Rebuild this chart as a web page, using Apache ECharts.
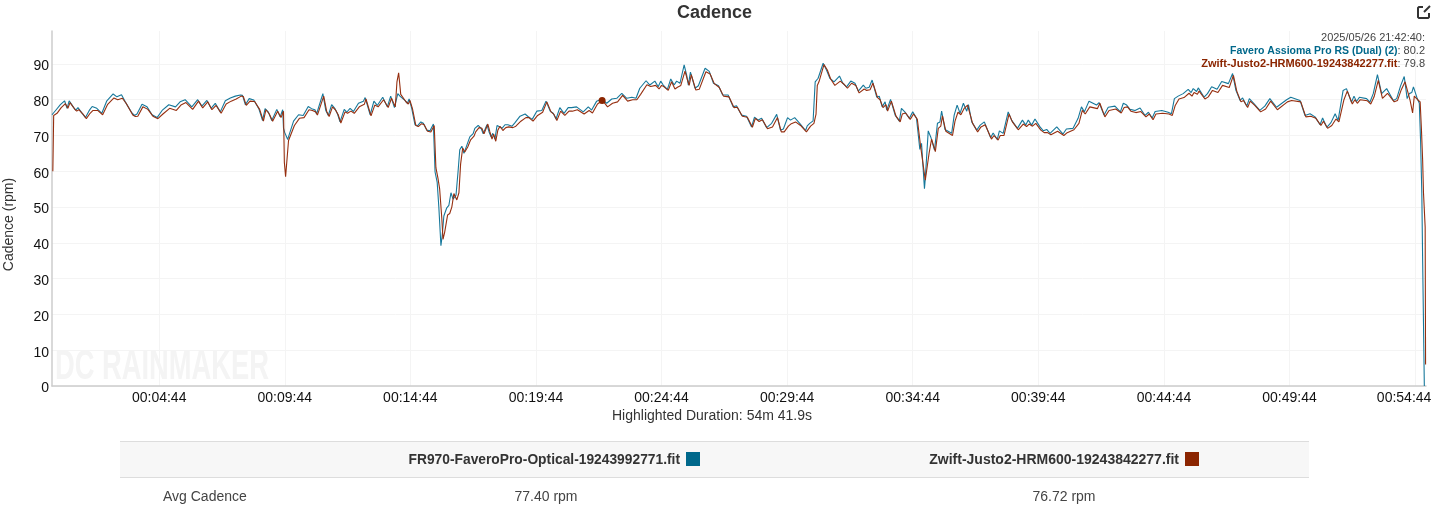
<!DOCTYPE html>
<html>
<head>
<meta charset="utf-8">
<title>Cadence</title>
<script src="https://cdn.jsdelivr.net/npm/echarts@6/dist/echarts.min.js"></script>
<style>
html, body { margin: 0; padding: 0; background: #fff; }
#chart { width: 1438px; height: 510px; }
</style>
</head>
<body>
<div id="chart"></div>
<script>
// seconds of elapsed time
var elapsed = [
  28, 30, 38, 48, 58, 64, 69, 80, 85, 90, 100, 108, 117, 124, 135, 147, 159, 174, 183, 194,
  203, 219, 225, 231, 243, 255, 267, 279, 291, 307, 323, 334, 346, 362, 376, 386, 398, 408, 418, 430,
  442, 454, 466, 478, 483, 490, 499, 510, 522, 531, 537, 545, 553, 565, 573, 579, 581, 584, 591, 605,
  617, 628, 640, 648, 656, 660, 664, 675, 682, 688, 696, 704, 710, 716, 726, 732, 740, 748, 760, 772,
  776, 788, 797, 805, 818, 829, 837, 846, 850, 854, 857, 859, 871, 877, 881, 887, 895, 901, 909, 915,
  923, 931, 939, 943, 948, 952, 957, 960, 964, 971, 976, 981, 986, 993, 998, 1002, 1007, 1012, 1019, 1026,
  1034, 1038, 1046, 1053, 1058, 1062, 1067, 1072, 1077, 1081, 1086, 1091, 1096, 1103, 1110, 1117, 1127, 1134, 1146, 1158,
  1165, 1175, 1186, 1198, 1208, 1218, 1225, 1232, 1241, 1251, 1261, 1269, 1281, 1297, 1309, 1317, 1329, 1341, 1353, 1365,
  1377, 1389, 1401, 1413, 1423, 1432, 1447, 1456, 1468, 1476, 1482, 1488, 1498, 1506, 1514, 1520, 1528, 1538, 1544, 1548,
  1553, 1564, 1572, 1588, 1598, 1608, 1620, 1630, 1643, 1655, 1663, 1675, 1687, 1699, 1706, 1715, 1723, 1735, 1747, 1759,
  1768, 1775, 1785, 1792, 1802, 1814, 1828, 1832, 1838, 1846, 1851, 1854, 1858, 1870, 1878, 1886, 1896, 1909, 1917, 1926,
  1936, 1946, 1954, 1966, 1972, 1980, 1987, 1998, 2004, 2011, 2018, 2022, 2031, 2042, 2052, 2057, 2065, 2076, 2084, 2093,
  2101, 2105, 2112, 2114, 2121, 2127, 2136, 2143, 2149, 2153, 2161, 2177, 2183, 2190, 2197, 2205, 2213, 2217, 2225, 2237,
  2245, 2255, 2270, 2276, 2286, 2291, 2300, 2312, 2320, 2334, 2346, 2354, 2360, 2368, 2376, 2388, 2396, 2404, 2412, 2428,
  2443, 2451, 2467, 2479, 2487, 2494, 2505, 2523, 2529, 2541, 2551, 2567, 2580, 2587, 2595, 2603, 2615, 2627, 2639, 2647,
  2656, 2663, 2679, 2694, 2702, 2709, 2718, 2730, 2742, 2749, 2754, 2762, 2766, 2780, 2788, 2798, 2811, 2822, 2838, 2848,
  2856, 2866, 2872, 2882, 2888, 2899, 2913, 2925, 2937, 2953, 2977, 2987, 3009, 3021, 3033, 3045, 3057, 3063, 3073, 3083,
  3093, 3100, 3112, 3120, 3132, 3138, 3144, 3151, 3168, 3176, 3184, 3194, 3204, 3216, 3232, 3240, 3249, 3258, 3265, 3270,
  3276, 3280, 3288, 3294, 3297, 3300, 3302, 3306, 3307
];

var faveroCadence = [
  75.8, 76.2, 77.2, 78.6, 79.7, 77.6, 79.7, 77.8, 77.1, 77.8, 76.2, 75, 77, 78.1, 77.6, 76.2, 79.7, 81.6, 80.8, 81.4,
  79.4, 76.3, 75.6, 76, 78.7, 78, 75.8, 75, 77, 78.6, 78, 79.4, 80, 78, 80, 78.2, 79.8, 77.6, 79, 76.6,
  79.7, 80.5, 81, 81.3, 81.2, 78.6, 80.3, 79.9, 77.5, 74.2, 77.5, 76.5, 74.2, 77.3, 75.2, 77.2, 72, 70.8, 68.9, 74,
  75.8, 75.6, 78.1, 77.5, 77.2, 76, 76, 81.7, 77, 75.6, 78.6, 77.5, 76, 73.8, 77.3, 76.5, 77.6, 76.7, 79, 79.6,
  80.6, 75.8, 79.6, 78.4, 80.7, 78, 81, 77.8, 78, 81.7, 82, 81, 79.8, 79, 80.2, 77.7, 73, 72.7, 73.8, 73.4,
  71.5, 71.3, 73.2, 59.8, 57, 50, 39.2, 42, 47.5, 49.8, 50.5, 54, 52.2, 53.3, 60, 66, 67, 65, 67.3, 69.6,
  70.5, 72, 72.8, 72, 70.5, 70.6, 73, 71, 69.6, 70.6, 69, 72.8, 72.5, 72, 73, 73, 72.6, 73.6, 75.4, 76,
  75.3, 74.5, 76.8, 77, 79.6, 76.8, 76.2, 74.6, 77.8, 76.2, 77.8, 77.8, 78, 76.6, 78, 77.1, 79.6, 80.2, 79, 80.2,
  80.4, 81.8, 80.4, 80.7, 80.4, 83.2, 85.3, 84.1, 85.2, 83.6, 85.2, 84.1, 82.9, 85.8, 84.1, 85.2, 84.6, 89.7, 86.9, 84.1,
  87.7, 83.2, 83.9, 88.8, 87.9, 84.6, 83.9, 81.3, 81.3, 78, 78.3, 75.7, 75.4, 72.4, 75.1, 74.3, 74.8, 72.2, 73.4, 75.9,
  71.5, 71.8, 75, 74.3, 75, 73.4, 71.4, 72.7, 73.4, 74.1, 85, 85.2, 86, 90.2, 88.3, 86, 85, 86.6, 84.6, 83.6,
  85.2, 84.6, 82.4, 84.1, 83.2, 83.5, 85.5, 80.7, 81, 78, 79.4, 77.1, 80.1, 75.7, 74, 77.6, 76.6, 74.8, 76.6, 74.8,
  66.1, 67.8, 55.1, 58, 71.3, 69.6, 65.9, 73.4, 73.8, 76.8, 71.7, 70.6, 75.7, 78.5, 76.2, 79, 76.8, 78.6, 73.8, 71.5,
  72.9, 73.8, 69.4, 70.7, 68.9, 71.3, 70.6, 76.6, 74.3, 72, 74.3, 72.9, 74.3, 72.9, 74.6, 72.4, 71.3, 71.7, 70.6, 72.4,
  70.4, 71.8, 72, 74.8, 78, 76.6, 79.6, 78.5, 79.2, 75.7, 77.9, 78.2, 76.6, 79, 78.5, 77.3, 77, 77.7, 75.6, 76.5,
  74.9, 76.7, 77, 76.5, 76.1, 80.3, 81, 81.7, 82.9, 82, 83.1, 82.3, 83.3, 80.7, 81.7, 83.6, 82.9, 85.1, 84.5, 87.3,
  82.6, 79.8, 80.5, 78.2, 80.3, 78.9, 77, 78.2, 80.3, 77.9, 80, 80.7, 79.8, 75.6, 76.1, 75.2, 73, 74.9, 72.3, 73.6,
  76.1, 74.2, 82.6, 83.1, 79.3, 81, 79.5, 80.7, 80.3, 79.3, 81.7, 87, 81.7, 83.1, 79.8, 80.3, 83.8, 86.5, 80.3, 81.7,
  82, 83.6, 80.7, 79, 68.7, 53.9, 35, 0, 0
];

var justoCadence = [
  60, 75.6, 76.2, 77.8, 78.9, 77.6, 79.2, 77.4, 76.8, 77.2, 76, 74.7, 76.2, 77, 77, 75.8, 78.7, 80.5, 80, 80.4,
  79, 75.7, 75.3, 75.4, 78, 77.3, 75.4, 74.7, 76, 77.6, 77, 78.5, 79.2, 77.3, 79.6, 77.7, 79.4, 77.2, 78.4, 76.2,
  78.8, 79.6, 80.2, 81, 80.9, 78.4, 79.6, 79.5, 77.3, 74, 77.2, 76, 74, 76.8, 75, 76.8, 62.5, 58.5, 68.6, 72.8,
  74.8, 75, 77.2, 77, 76.6, 75.7, 75.6, 81, 76.8, 75.3, 78, 77, 75.7, 73.5, 76.6, 76.2, 76.8, 76.2, 78, 78.7,
  80.2, 75.5, 78.5, 78, 80, 77.8, 80.4, 78, 85, 87.5, 84, 81.5, 79.5, 78.8, 79.8, 77.5, 72.8, 72.5, 73.3, 73,
  71.2, 71, 72.8, 61, 58, 55, 47, 41, 43, 47.8, 48.2, 50, 53.8, 52, 54, 62, 66.5, 65.4, 66.8, 68.8,
  69.8, 71, 72.2, 72, 70.5, 70.3, 73.2, 71, 69, 70.4, 68.4, 71.5, 72.6, 71.4, 72.2, 72.4, 72.2, 72.6, 74, 75,
  75, 74, 75.6, 76.5, 79.4, 76.6, 75.9, 74.2, 76.8, 75.6, 76.8, 76.8, 77.2, 76, 77, 76.3, 78.8, 79.8, 78, 79,
  79.4, 81.2, 79.6, 80, 80, 81.5, 84.2, 83.7, 84, 83, 84, 83.6, 82.6, 85, 83, 83.5, 84, 88, 85.5, 84,
  87, 82.7, 82.9, 87.8, 87.2, 84.5, 83.4, 81, 80.8, 77.8, 77.9, 75.4, 75.1, 72.3, 74.8, 73.9, 74.4, 71.9, 72.4, 75,
  71, 71, 72.6, 73.3, 73.8, 72.8, 71, 71.2, 72.6, 73.4, 76, 84, 85, 89.8, 88.3, 85.8, 84, 85.2, 84.4, 83.2,
  84.6, 84, 81.9, 83, 82.6, 82.8, 84.6, 80.6, 80, 77.8, 78.6, 76.8, 79.6, 75.4, 73.8, 76, 76.3, 74.5, 76, 74.5,
  66.8, 66.5, 57.5, 58, 65, 69, 65.5, 72, 72.6, 75.5, 71.2, 70, 74, 76.5, 75.8, 77.6, 78.5, 79, 73.4, 71,
  72.4, 73, 69, 70, 68.7, 70, 70, 76, 73.8, 71.6, 73.2, 72.5, 73.2, 72.6, 73.4, 71.5, 70.8, 70.8, 70.2, 71.2,
  70, 70.8, 71.6, 73.4, 77, 76, 78, 77.5, 79, 75.2, 77, 77.4, 76.3, 77.8, 78, 76.8, 76.4, 76.7, 75.2, 76,
  74.4, 76, 76.2, 76, 75.6, 78.4, 80.2, 80.6, 81.8, 81, 82, 81.5, 82.4, 80.2, 80.8, 82.6, 82, 84, 83.4, 86.8,
  82.4, 79.4, 79.8, 77.8, 79.6, 78.4, 76.6, 77.4, 79.6, 77.2, 79.4, 79.8, 79.4, 75.2, 75.4, 74.8, 72.8, 74, 72, 72.8,
  74.6, 73.8, 80, 82.4, 78.8, 80, 79, 80, 79.7, 78.8, 80.8, 85.4, 80.4, 81.8, 79.4, 79.8, 82.8, 85, 82, 79.8,
  76.3, 81, 80, 79.4, 72, 63, 54, 44.4, 6
];

// the Justo file's clock runs a little behind the Favero one
var justoLagSeconds = 2;

var tickSeconds = [284, 584, 884, 1184, 1484, 1784, 2084, 2384, 2684, 2984, 3284];
var tickLabels = ['00:04:44', '00:09:44', '00:14:44', '00:19:44', '00:24:44', '00:29:44', '00:34:44', '00:39:44', '00:44:44', '00:49:44', '00:54:44'];
var cadenceTicks = [0, 10, 20, 30, 40, 50, 60, 70, 80, 90];

var fileNames = ['FR970-FaveroPro-Optical-19243992771.fit', 'Zwift-Justo2-HRM600-19243842277.fit'];
var avgCadence = ['77.40 rpm', '76.72 rpm'];
var hoverSecond = 1342;
var hoverCadence = 79.8;

var TEAL = '#00688b';
var RED = '#8b2500';
var FONT = '"Liberation Sans", Arial, sans-serif';

function pairs(values, lag) {
    return elapsed.map(function (t, i) {
        return [t + lag, values[i]];
    });
}

function label(x, y, text, size, color, align, weight) {
    return {
        type: 'text',
        x: x,
        y: y,
        z: 10,
        silent: true,
        style: {
            text: text,
            font: (weight || 'normal') + ' ' + size + 'px ' + FONT,
            fill: color,
            align: align || 'left',
            verticalAlign: 'middle'
        }
    };
}

function box(x, y, w, h, color) {
    return { type: 'rect', silent: true, shape: { x: x, y: y, width: w, height: h }, style: { fill: color } };
}

function stroke(points) {
    return { type: 'polyline', silent: true, shape: { points: points }, style: { fill: 'none', stroke: '#333', lineWidth: 2 } };
}

var chart = echarts.init(document.getElementById('chart'), null, { renderer: 'canvas' });

chart.setOption({
    animation: false,
    backgroundColor: '#fff',
    title: {
        text: 'Cadence',
        left: 672,
        top: -1,
        textStyle: { fontFamily: FONT, fontSize: 18, fontWeight: 'bold', color: '#333' }
    },
    grid: { left: 52, top: 31, width: 1374, height: 355, outerBoundsMode: 'none' },
    xAxis: {
        type: 'value',
        min: 28,
        max: 3310,
        axisLine: { onZero: false, lineStyle: { color: '#ccc', width: 1.5 } },
        axisTick: { show: false, customValues: tickSeconds },
        splitLine: { show: true, lineStyle: { color: '#f4f4f4', width: 1 } },
        axisLabel: {
            customValues: tickSeconds,
            margin: 5,
            color: '#111',
            fontFamily: FONT,
            fontSize: 14,
            formatter: function (value) {
                var text = tickLabels[tickSeconds.indexOf(value)];
                return value === 3284 ? '{last|' + text + '}' : text;
            },
            rich: { last: { padding: [0, 22, 0, 0], color: '#111', fontFamily: FONT, fontSize: 14 } }
        }
    },
    yAxis: {
        type: 'value',
        min: 0,
        max: 99.2,
        name: 'Cadence (rpm)',
        nameLocation: 'middle',
        nameGap: 36,
        nameTextStyle: { color: '#333', fontFamily: FONT, fontSize: 14, padding: [0, 32, 0, 0] },
        axisLine: { show: true, lineStyle: { color: '#ccc', width: 1.5 } },
        axisTick: { show: false, customValues: cadenceTicks },
        splitLine: { show: true, lineStyle: { color: '#f4f4f4', width: 1 } },
        axisLabel: {
            customValues: cadenceTicks,
            margin: 3,
            color: '#111',
            fontFamily: FONT,
            fontSize: 14,
            formatter: function (value) {
                return '{tick|' + value + '}';
            },
            // labels sit a little under their grid lines
            rich: { tick: { padding: [5, 0, 0, 0], color: '#111', fontFamily: FONT, fontSize: 14 } }
        }
    },
    series: [
        {
            name: 'Favero Assioma Pro RS (Dual) (2)',
            type: 'line',
            data: pairs(faveroCadence, 0),
            showSymbol: false,
            lineStyle: { color: '#16789b', width: 1.1 },
            itemStyle: { color: TEAL },
            z: 2
        },
        {
            name: 'Zwift-Justo2-HRM600-19243842277.fit',
            type: 'line',
            data: pairs(justoCadence, justoLagSeconds),
            showSymbol: false,
            lineStyle: { color: '#962f10', width: 1.1 },
            itemStyle: { color: RED },
            markPoint: {
                symbol: 'circle',
                symbolSize: 7,
                silent: true,
                label: { show: false },
                itemStyle: { color: RED },
                data: [{ coord: [hoverSecond, hoverCadence] }]
            },
            z: 3
        }
    ],
    graphic: [
        // watermark sits behind the lines
        {
            type: 'text',
            x: 55,
            y: 367,
            scaleX: 0.65,
            silent: true,
            z: -1,
            style: {
                text: 'DC RAINMAKER',
                font: 'bold 42px "Liberation Sans Narrow", ' + FONT,
                fill: '#f4f4f4',
                verticalAlign: 'middle'
            }
        },
        // edit icon, top right
        stroke([[1423, 7], [1419, 7], [1418, 8], [1418, 17], [1419, 18], [1428, 18], [1429, 17], [1429, 13]]),
        stroke([[1424, 12], [1430, 6]]),
        label(1425, 38, '2025/05/26 21:42:40:', 11, '#444', 'right'),
        {
            type: 'text',
            x: 1425,
            y: 51,
            z: 10,
            silent: true,
            style: {
                text: '{a|Favero Assioma Pro RS (Dual) (2)}{b|: 80.2}',
                align: 'right',
                verticalAlign: 'middle',
                rich: {
                    a: { font: 'bold 10.5px ' + FONT, fill: TEAL },
                    b: { font: '11px ' + FONT, fill: '#444' }
                }
            }
        },
        {
            type: 'text',
            x: 1425,
            y: 64,
            z: 10,
            silent: true,
            style: {
                text: '{a|Zwift-Justo2-HRM600-19243842277.fit}{b|: 79.8}',
                align: 'right',
                verticalAlign: 'middle',
                rich: {
                    a: { font: 'bold 11px ' + FONT, fill: RED },
                    b: { font: '11px ' + FONT, fill: '#444' }
                }
            }
        },
        label(712, 416, 'Highlighted Duration: 54m 41.9s', 14, '#333', 'center'),
        // summary table
        box(120, 441, 1189, 36, '#f7f7f7'),
        box(120, 441, 1189, 1, '#ddd'),
        box(120, 477, 1189, 1, '#ddd'),
        label(680, 460.5, fileNames[0], 13.8, '#333', 'right', 'bold'),
        box(686, 452, 14, 14, TEAL),
        label(1179, 460.5, fileNames[1], 14, '#333', 'right', 'bold'),
        box(1185, 452, 14, 14, RED),
        label(163, 497, 'Avg Cadence', 14, '#444'),
        label(546, 497, avgCadence[0], 14, '#444', 'center'),
        label(1064, 497, avgCadence[1], 14, '#444', 'center')
    ]
});
</script>
</body>
</html>
